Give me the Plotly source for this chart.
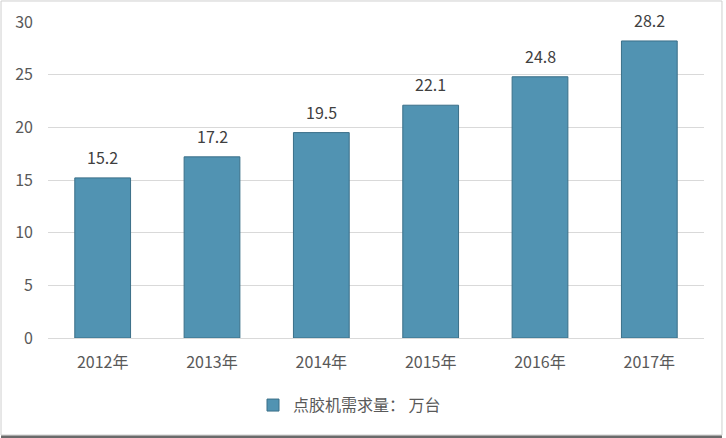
import plotly.graph_objects as go

years = ['2012年', '2013年', '2014年', '2015年', '2016年', '2017年']
demand = [15.2, 17.2, 19.5, 22.1, 24.8, 28.2]
series_name = '点胶机需求量： 万台'

font_family = 'Noto Sans CJK SC, Microsoft YaHei, sans-serif'

fig = go.Figure()
fig.add_trace(
    go.Bar(
        x=years, y=demand, name=series_name,
        marker=dict(color='#5193b2', line=dict(color='#3a6f88', width=1)),
        width=0.51
    )
)

# value labels above each bar
for yr, val in zip(years, demand):
    fig.add_annotation(x=yr, y=val, text=str(val), showarrow=False,
                       yanchor='bottom', yshift=7,
                       font=dict(size=16, color='#404040'))

fig.update_layout(
    width=726, height=438,
    margin=dict(l=48, r=22, t=22, b=100, autoexpand=False),
    paper_bgcolor='white', plot_bgcolor='white',
    font=dict(family=font_family, size=16, color='#595959'),
    showlegend=True,
    legend=dict(orientation='h', x=0.3125, xanchor='left',
                yref='container', y=0.075, yanchor='middle',
                font=dict(size=16, color='#595959')),
    xaxis=dict(showline=True, linecolor='#d9d9d9', linewidth=1, ticks='',
               tickfont=dict(size=16), ticklabelstandoff=10),
    yaxis=dict(range=[0, 30], dtick=5, showgrid=True, gridcolor='#d9d9d9',
               zeroline=False, showline=False, tickfont=dict(size=16),
               ticklabelstandoff=14),
    shapes=[
        dict(type='rect', xref='paper', yref='paper', x0=-0.0716, x1=1.0274,
             y0=-0.307, y1=1.0665, line=dict(color='#cfcfcf', width=1)),
        dict(type='line', xref='paper', yref='paper', x0=-0.0716, x1=1.0274,
             y0=-0.3133, y1=-0.3133, line=dict(color='#6a6a6a', width=3)),
    ]
)

# drop the default page margin so the chart sits at the window's top-left
fig.write_html("out.html", config={'displayModeBar': False},
               post_script="document.body.style.margin='0';document.body.style.padding='0';")
